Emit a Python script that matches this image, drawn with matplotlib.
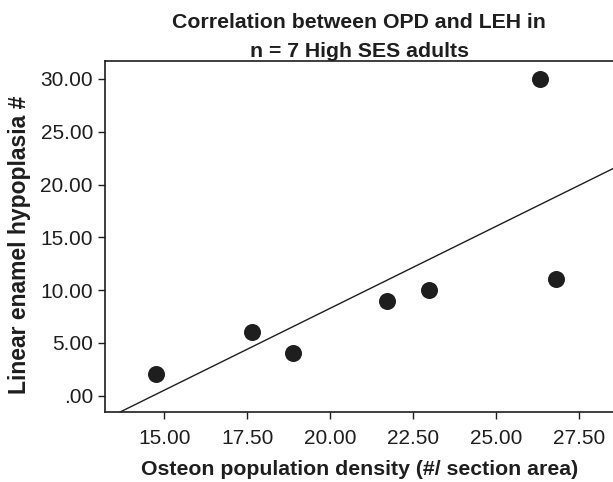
import numpy as np
import matplotlib.pyplot as plt

plt.rcParams['font.family'] = ['Liberation Sans', 'DejaVu Sans']

# Osteon population density vs linear enamel hypoplasia count (High SES adults)
opd = [14.76, 17.64, 18.87, 21.71, 22.98, 26.79, 26.33]
leh = [2.0, 6.0, 4.0, 9.0, 10.0, 11.0, 30.0]

x_ticks = [15.0, 17.5, 20.0, 22.5, 25.0, 27.5]
y_ticks = [0, 5, 10, 15, 20, 25, 30]
y_labels = ['.00', '5.00', '10.00', '15.00', '20.00', '25.00', '30.00']

ink = '#1e1e1e'

fig = plt.figure(figsize=(6.13, 4.82), dpi=100)
ax = fig.add_axes([0.172, 0.145, 0.828, 0.729])

ax.scatter(opd, leh, s=150, color=ink, zorder=3, linewidths=0)

# least squares fit line
slope, icpt = np.polyfit(opd, leh, 1)
xs = np.array([13.0, 29.0])
ax.plot(xs, slope * xs + icpt, color=ink, lw=1.0)

ax.set_xlim(13.23, 28.52)
ax.set_ylim(-1.57, 31.73)
ax.set_xticks(x_ticks)
ax.set_xticklabels([f'{v:.2f}' for v in x_ticks])
ax.set_yticks(y_ticks)
ax.set_yticklabels(y_labels)
ax.tick_params(direction='out', length=5, width=1, color=ink, labelcolor=ink,
               labelsize=15, pad=4)
ax.tick_params(axis='x', pad=7)
ax.spines['right'].set_visible(False)
for s in ['top', 'left', 'bottom']:
    ax.spines[s].set_color(ink)
    ax.spines[s].set_linewidth(1.2)

ax.set_title('Correlation between OPD and LEH in\nn = 7 High SES adults',
             fontsize=15.3, fontweight='bold', color=ink, pad=-1.5, linespacing=1.65)
ax.set_xlabel('Osteon population density (#/ section area)', fontsize=15.3,
              fontweight='bold', color=ink, labelpad=9)
ax.set_ylabel('Linear enamel hypoplasia #', fontsize=16.5, fontweight='bold',
              color=ink)
ax.yaxis.set_label_coords(-0.146, 0.476)

fig.savefig('out.png', dpi=100)
